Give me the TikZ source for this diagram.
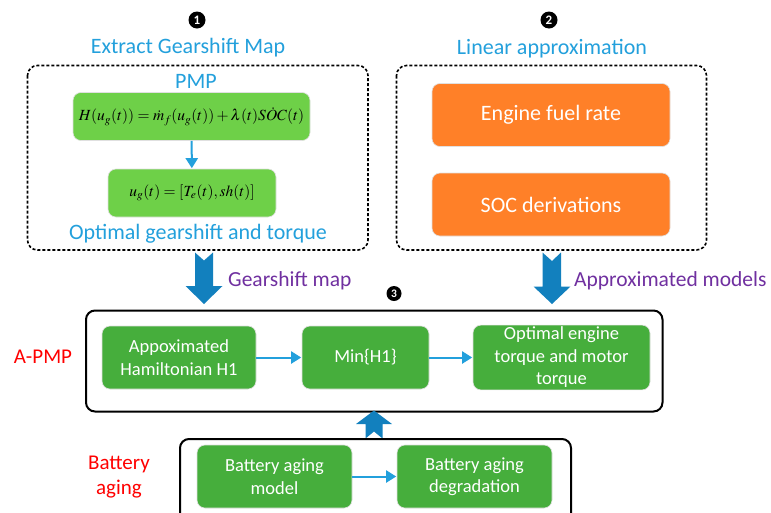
\documentclass[tikz,border=0pt]{standalone}
\usepackage{mathptmx}
\usepackage[no-math]{fontspec}
\setmainfont{Carlito}
\usetikzlibrary{arrows.meta}
\definecolor{tblue}{RGB}{35,160,220}
\definecolor{bigblue}{RGB}{18,128,190}
\definecolor{lgreen}{RGB}{110,208,72}
\definecolor{dgreen}{RGB}{70,174,60}
\definecolor{orng}{RGB}{255,128,40}
\definecolor{purp}{RGB}{112,48,160}
\tikzset{
  boxbase/.style={rounded corners=8pt, draw=black!12, line width=0.6pt, inner sep=2pt, align=center},
  lbox/.style={boxbase, fill=lgreen, text=black, font=\fontsize{15.5}{19}\selectfont},
  obox/.style={boxbase, fill=orng, text=white, font=\fontsize{22}{26}\selectfont},
  gbox/.style={boxbase, fill=dgreen, text=white, font=\fontsize{18.5}{22.5}\selectfont},
  btitle/.style={text=tblue, font=\fontsize{22}{26}\selectfont, inner sep=0pt},
  ptitle/.style={text=purp, font=\fontsize{21.5}{26}\selectfont, inner sep=0pt},
  rtitle/.style={text=red, font=\fontsize{21}{25}\selectfont, inner sep=0pt, align=center},
  dashbox/.style={draw=black, line width=1.6pt, dash pattern=on 3pt off 2pt, rounded corners=10pt},
  solidbox/.style={draw=black, line width=2pt, rounded corners=9pt},
  thinarrow/.style={draw=tblue, line width=2pt, -{Triangle[length=10pt,width=12pt]}, shorten >=0.5pt},
  numdot/.style={circle, fill=black, text=white, inner sep=0pt, minimum size=17pt, font=\fontsize{13}{13}\selectfont\bfseries}
}
\begin{document}
\begin{tikzpicture}[x=1pt,y=-1pt]
\useasboundingbox (0,0) rectangle (771,512);
\fill[white] (0,0) rectangle (771,512);

% Part 1
\node[numdot] (n1) at (197,20) {1};
\node[btitle] (t1) at (188,47.5) {Extract Gearshift Map};
\draw[dashbox] (27.5,65.5) rectangle (368,250);
\node[btitle] (pmp) at (196,81) {PMP};
\node[lbox, minimum width=237pt, minimum height=48pt] (H) at (191.5,116.5)
  {$H(u_g(t))=\dot{m}_f(u_g(t))+\lambda(t)S\dot{O}C(t)$};
\node[lbox, minimum width=168pt, minimum height=48pt] (ug) at (192,193)
  {$u_g(t)=[T_e(t),sh(t)]$};
\draw[thinarrow] (H) -- (ug);
\node[btitle] (t1b) at (198,234) {Optimal gearshift and torque};

% Part 2
\node[numdot] (n2) at (549,20) {2};
\node[btitle] (t2) at (552,49) {Linear approximation};
\draw[dashbox] (396.5,65.5) rectangle (706.5,250);
\node[obox, minimum width=238pt, minimum height=63pt] (efr) at (551,115) {Engine fuel rate};
\node[obox, minimum width=238pt, minimum height=63pt] (soc) at (551,204.5) {SOC derivations};

% Big arrows
\fill[bigblue] (195,252.5) -- (204,260.5) -- (213,252.5) -- (213,286) -- (222.5,286) -- (204,304) -- (185.5,286) -- (195,286) -- cycle;
\fill[bigblue] (542.5,252.5) -- (552,261) -- (561,252.5) -- (561,286.5) -- (570.5,286.5) -- (552,304) -- (533.5,286.5) -- (542.5,286.5) -- cycle;
\node[ptitle, anchor=west] (gm) at (228,280.5) {Gearshift map};
\node[ptitle, anchor=west] (am) at (574,280.5) {Approximated models};

% Part 3
\node[numdot, minimum size=15pt, font=\fontsize{11.5}{11.5}\selectfont\bfseries] (n3) at (394,293.5) {3};
\draw[solidbox] (86,310.5) rectangle (662.5,411.5);
\node[rtitle] (apmp) at (43,357) {A-PMP};
\node[gbox, minimum width=154pt, minimum height=63pt] (ah) at (179,357.5) {Appoximated\\Hamiltonian H1};
\node[gbox, minimum width=127pt, minimum height=63pt] (mn) at (365.5,357.5) {Min\{H1\}};
\node[gbox, minimum width=177pt, minimum height=63pt] (opt) at (561.5,357.5) {Optimal engine\\torque and motor\\torque};
\draw[thinarrow] (ah) -- (mn);
\draw[thinarrow] (mn) -- (opt);

% up arrow
\fill[bigblue] (365.5,438.5) -- (374,431.5) -- (382.5,438.5) -- (382.5,424) -- (392,424) -- (374,410.5) -- (356,424) -- (365.5,424) -- cycle;

% Battery aging
\draw[solidbox] (180,439) rectangle (571,530);
\node[rtitle] (ba) at (119,477.5) {\fontsize{21}{27.5}\selectfont Battery\\aging};
\node[gbox, minimum width=155pt, minimum height=63pt] (bam) at (274.5,476.5) {Battery aging\\model};
\node[gbox, minimum width=155pt, minimum height=63pt] (bad) at (474.5,476.5) {Battery aging\\degradation};
\draw[thinarrow] (bam) -- (bad);
\end{tikzpicture}
\end{document}
